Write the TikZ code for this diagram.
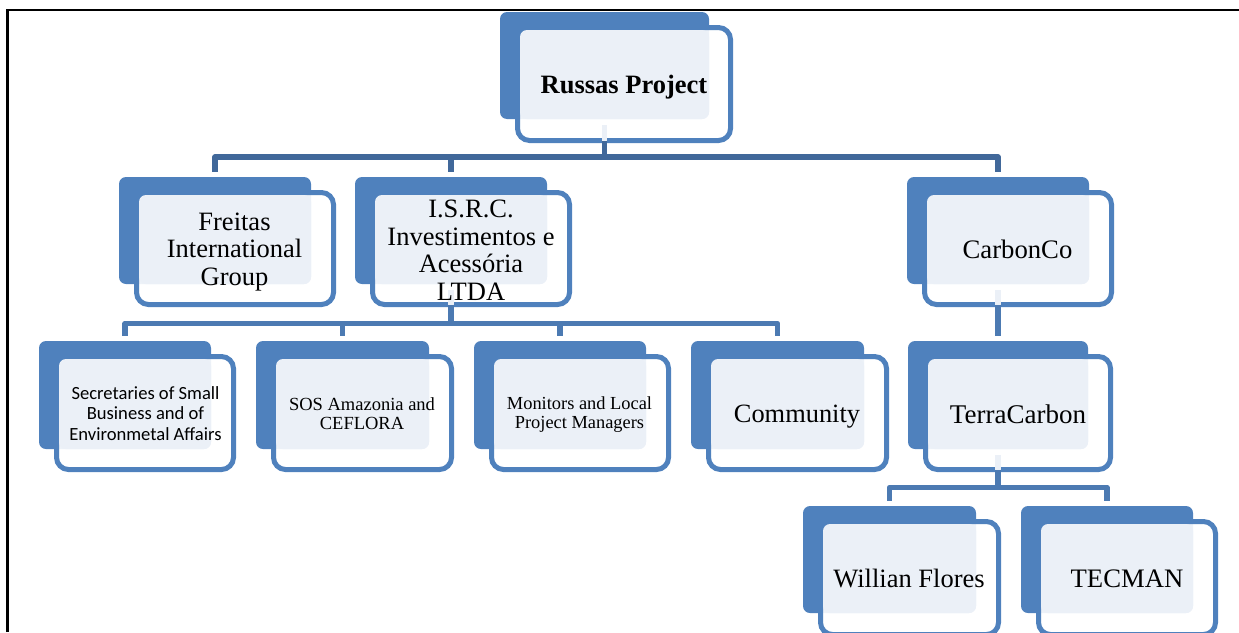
\documentclass[tikz,border=0pt]{standalone}
\usepackage{fontspec}
\setmainfont{Liberation Serif}
\newfontfamily\carlitofont{Carlito}
\definecolor{backblue}{HTML}{4F81BD}
\definecolor{lightfill}{HTML}{EBF0F7}
\definecolor{darklink}{HTML}{41689A}
\definecolor{midlink}{HTML}{4C7AB2}
\tikzset{
  backbox/.style={draw=none,fill=backblue,rounded corners=7pt,inner sep=0pt,outer sep=0pt,anchor=north west},
  outlinebox/.style={draw=backblue,fill=white,fill opacity=.9,line width=5pt,rounded corners=12pt,inner sep=0pt,outer sep=0pt,anchor=north west},
  lightbox/.style={draw=none,fill=lightfill,rounded corners=7pt,inner sep=0pt,outer sep=0pt,anchor=north west},
  label/.style={align=center,inner sep=0pt,text=black},
  toplink/.style={draw=darklink,line width=5.5pt,line join=round},
  lowlink/.style={draw=midlink,line width=5.5pt,line join=round},
  stub/.style={draw=lightfill,line width=5.5pt}
}
% #1 name, #2 back x0, #3 back y0, #4 back x1, #5 back y1, #6 outline x1 (outer), #7 outline y1 (outer)
\newcommand{\orgbox}[7]{%
  \node[backbox,minimum width={(#4-#2)*1pt},minimum height={(#5-#3)*1pt}] (#1) at (#2,#3) {};
  \node[outlinebox,minimum width={(#6-#2-20)*1pt},minimum height={(#7-#3-18)*1pt}] (#1o) at (#2+17.5,#3+15.5) {};
  \node[lightbox,minimum width={(#4-#2-20)*1pt},minimum height={(#5-#3-18)*1pt}] (#1l) at (#2+20,#3+18) {};
}
\begin{document}
\begin{tikzpicture}[x=1pt,y=-1pt]
\useasboundingbox (0,0) rectangle (1239,632);
\clip (0,0) rectangle (1239,632);
\draw[black,line width=2.2pt] (7.5,632) -- (7.5,10) -- (1239,10);

\orgbox{root}{500}{12}{709}{119}{733}{143}
\orgbox{freitas}{119}{177}{311}{284}{336}{307}
\orgbox{isrc}{355}{177}{547}{284}{572}{307}
\orgbox{carbonco}{907}{177}{1089}{284}{1114}{307}
\orgbox{sec}{39}{341}{211}{449}{236}{472}
\orgbox{sos}{256}{341}{429}{449}{454}{472}
\orgbox{mon}{474}{341}{646}{449}{671}{472}
\orgbox{comm}{691}{341}{864}{449}{889}{472}
\orgbox{terra}{908}{341}{1088}{449}{1113}{472}
\orgbox{will}{803}{506}{976}{613}{1001}{637}
\orgbox{tec}{1021}{506}{1193}{613}{1218}{637}

% connector hubs, straight below each parent's back panel
\coordinate (busa) at (root.south |- 0,157);
\coordinate (busb) at (isrc.south |- 0,323.5);
\coordinate (busc) at (terra.south |- 0,487.5);

% faint stubs inside the outlined boxes
\draw[stub] ([yshift=-6pt]root.south) -- (root.south |- rooto.south);
\draw[stub] ([yshift=-6pt]carbonco.south) -- (carbonco.south |- carboncoo.south);
\draw[stub] ([yshift=-6pt]terra.south) -- (terra.south |- terrao.south);
\draw[stub] ([yshift=-6pt]isrc.south) -- (isrc.south |- isrco.south);

% connectors
\draw[toplink] (root.south |- rooto.south) -- (busa);
\draw[toplink,shorten >=5pt] (busa) -| (freitas.north);
\draw[toplink,shorten >=5pt] (busa) -| (isrc.north);
\draw[toplink,shorten >=5pt] (busa) -| (carbonco.north);
\draw[lowlink] (isrc.south |- isrco.south) -- (busb);
\draw[lowlink,shorten >=5pt] (busb) -| (sec.north);
\draw[lowlink,shorten >=5pt] (busb) -| (sos.north);
\draw[lowlink,shorten >=5pt] (busb) -| (mon.north);
\draw[lowlink,shorten >=5pt] (busb) -| (comm.north);
\draw[lowlink,shorten >=5pt] (carbonco.south |- carboncoo.south) -- (carbonco.south |- terra.north);
\draw[lowlink] (terra.south |- terrao.south) -- (busc);
\draw[lowlink,shorten >=5pt] (busc) -| (will.north);
\draw[lowlink,shorten >=5pt] (busc) -| (tec.north);

% labels
\node[label,font=\bfseries\fontsize{26.5}{30}\selectfont] (trussas) at (624,87) {Russas Project};
\node[label,font=\fontsize{26.5}{27.5}\selectfont] (tfreitas) at (234.5,252) {Freitas\\International\\Group};
\node[label,font=\fontsize{26.5}{27.5}\selectfont] (tisrc) at (471,250) {I.S.R.C.\\Investimentos e\\Acessória\\LTDA};
\node[label,font=\fontsize{26.7}{27.5}\selectfont] (tcarbon) at (1017.5,249) {CarbonCo};
\node[label,font=\carlitofont\fontsize{18.6}{20.5}\selectfont] (tsec) at (145.5,413.5) {Secretaries of Small\\Business and of\\Environmetal Affairs};
\node[label,font=\fontsize{18.5}{19}\selectfont] (tsos) at (362,414) {SOS Amazonia and\\CEFLORA};
\node[label,font=\fontsize{18.4}{19}\selectfont] (tmon) at (579.5,415) {Monitors and Local\\Project Managers};
\node[label,font=\fontsize{26.4}{30}\selectfont] (tcomm) at (797,417) {Community};
\node[label,font=\fontsize{27}{30}\selectfont] (tterra) at (1018,414) {TerraCarbon};
\node[label,font=\fontsize{26.5}{30}\selectfont] (twill) at (909,578) {Willian Flores};
\node[label,font=\fontsize{26.7}{30}\selectfont] (ttec) at (1127,579) {TECMAN};
\end{tikzpicture}
\end{document}
